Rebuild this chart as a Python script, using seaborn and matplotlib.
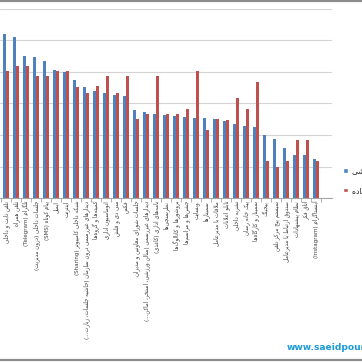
import re
import unicodedata
import numpy as np
import pandas as pd
import seaborn as sns
import matplotlib
matplotlib.use("Agg")
import matplotlib.pyplot as plt
from matplotlib.patches import Patch
from matplotlib.lines import Line2D

# ---------------- data ----------------
categories = [
    "تلفن ثابت و داخلی",
    "تلفن همراه",
    "تلگرام (Telegram)",
    "جلسات داخلی (درون مدیریت)",
    "پیام کوتاه (SMS)",
    "ایمیل",
    "اینترنت",
    "شبکه داخلی کامپیوتر (Sharing)",
    "دیدارهای غیررسمی درون سازمان (حاشیه جلسات، زیارت...)",
    "کمیته‌ها و گروه‌ها",
    "اتوماسیون اداری",
    "سی دی و فلش",
    "فکس",
    "جلسات شورای معاونین و مدیران",
    "دیدارهای غیررسمی (سالن ورزشی، استخر، اماکن...)",
    "نامه‌های اداری (کاغذی)",
    "نظرسنجی‌ها",
    "بروشورها و کاتالوگ‌ها",
    "جشن‌ها و مراسم‌ها",
    "وبسایت",
    "سمینارها",
    "ملاقات با مدیرعامل",
    "تابلو اعلانات",
    "نشریه داخلی",
    "پیک خانه رسان",
    "سمینار و کارگاه‌ها",
    "پیجینگ",
    "سیستم پیج مرکز تلفن",
    "صندوق ارتباط با مدیرعامل",
    "نظام پیشنهادات",
    "اتاق فکر",
    "اینستاگرام (Instagram)",
]
series_names = ["میزان اثربخشی", "میزان استفاده"]
effectiveness = [52.2, 51.0, 45.1, 44.7, 43.5, 40.5, 40.0, 37.5, 35.1, 33.9, 33.4,
                 32.8, 32.4, 28.0, 27.2, 26.8, 26.4, 26.1, 25.8, 25.5, 25.3, 25.0,
                 24.6, 23.6, 23.0, 22.6, 19.9, 18.6, 16.0, 13.8, 13.8, 12.3]
usage = [40.3, 42.0, 42.0, 38.6, 38.6, 40.3, 40.3, 35.1, 33.4, 35.4, 38.6,
         33.4, 38.6, 25.1, 26.7, 38.6, 26.7, 26.7, 28.4, 40.3, 21.7, 25.0,
         24.9, 31.7, 28.4, 36.8, 11.6, 10.0, 11.6, 18.3, 18.3, 11.6]
watermark = "www.saeidpourrostam.com"

# ---------------- simple Arabic-script shaping + RTL ordering ----------------
FORMS = {}
for cp in list(range(0xFB50, 0xFE00)) + list(range(0xFE70, 0xFF00)):
    d = unicodedata.decomposition(chr(cp))
    if not d:
        continue
    parts = d.split()
    if len(parts) == 2 and parts[0] in ("<isolated>", "<final>", "<initial>", "<medial>"):
        base = chr(int(parts[1], 16))
        FORMS.setdefault(base, {}).setdefault(parts[0][1:-1], chr(cp))

LAM_ALEF = {"ا": ("\uFEFB", "\uFEFC"), "آ": ("\uFEF5", "\uFEF6")}


def joins_next(c):
    return c in FORMS and ("initial" in FORMS[c] or "medial" in FORMS[c])


def joins_prev(c):
    return c in FORMS and "final" in FORMS[c]


def shape(text):
    out = []
    chars = list(text)
    i = 0
    while i < len(chars):
        c = chars[i]
        if c not in FORMS:
            if c != "\u200c":
                out.append(c)
            i += 1
            continue
        prev = chars[i - 1] if i > 0 else None
        nxt = chars[i + 1] if i + 1 < len(chars) else None
        jp = prev is not None and joins_next(prev) and joins_prev(c)
        if c == "ل" and nxt in LAM_ALEF:
            out.append(LAM_ALEF[nxt][1] if jp else LAM_ALEF[nxt][0])
            i += 2
            continue
        jn = nxt is not None and joins_prev(nxt) and joins_next(c)
        f = FORMS[c]
        if jp and jn and "medial" in f:
            out.append(f["medial"])
        elif jp and "final" in f:
            out.append(f["final"])
        elif jn and "initial" in f:
            out.append(f["initial"])
        else:
            out.append(f.get("isolated", c))
        i += 1
    return "".join(out)


MIRROR = str.maketrans("()[]", ")(][")


def rtl(text):
    runs = re.findall(r"[A-Za-z0-9][A-Za-z0-9 .]*[A-Za-z0-9]|[A-Za-z0-9]|[^A-Za-z0-9]+", text)
    vis = []
    for r in runs:
        if re.match(r"[A-Za-z0-9]", r):
            vis.append(r)
        else:
            vis.append(shape(r)[::-1].translate(MIRROR))
    return "".join(vis[::-1])


# ---------------- plot ----------------
sns.set_theme(style="white")
plt.rcParams["font.family"] = ["DejaVu Sans"]

W, H = 362, 362
fig = plt.figure(figsize=(W / 100, H / 100), dpi=100)
ax = fig.add_axes([0, (H - 198) / H, 332 / W, (198 - 9) / H])

df = pd.DataFrame({
    "cat": categories * 2,
    "series": [series_names[0]] * len(categories) + [series_names[1]] * len(categories),
    "value": effectiveness + usage,
})
blue, red = "#4F81BD", "#C0504D"
sns.barplot(data=df, x="cat", y="value", hue="series", palette=[blue, red],
            width=0.58, ax=ax, legend=False, saturation=1, order=categories,
            linewidth=0, edgecolor="none")

ax.set_xlim(-0.63, len(categories) - 1 + 1.57)
ax.set_ylim(0, 60)
ax.set_yticks(np.arange(0, 61, 10))
ax.yaxis.grid(True, color="#D4D4D4", linewidth=0.8)
ax.set_axisbelow(True)
ax.tick_params(axis="y", left=False, labelleft=False)
for s in ["left", "right", "top"]:
    ax.spines[s].set_visible(False)
ax.spines["bottom"].set_color("#A6A6A6")
ax.spines["bottom"].set_linewidth(0.8)
ax.set_xlabel("")
ax.set_ylabel("")

ax.set_xticks(range(len(categories)))
ax.set_xticklabels([rtl(c) for c in categories], rotation=90, fontsize=4,
                   color="#404040", va="top", ha="center")
ax.tick_params(axis="x", which="major", length=0, pad=2)
ax.set_xticks(np.arange(-0.5, len(categories), 1.0), minor=True)
ax.tick_params(axis="x", which="minor", length=3, width=0.6, color="#A6A6A6", bottom=True)

handles = [Patch(facecolor=blue), Patch(facecolor=red)]
fig.legend(handles, [rtl(s) for s in series_names], loc="upper left",
           bbox_to_anchor=(343 / W, 1 - 166 / H), frameon=False, fontsize=5.5,
           handlelength=0.6, handleheight=0.6, handletextpad=0.6,
           labelspacing=1.4, borderaxespad=0, borderpad=0)

fig.text(287 / W, 1 - 348 / H, watermark, color="#1B9AD6", fontsize=6.6,
         fontweight="bold", ha="left", va="center")

fig.add_artist(Line2D([0, 1], [1 - 0.8 / H, 1 - 0.8 / H], color="#8C8C8C", linewidth=1.6))
fig.add_artist(Line2D([0, 1], [1 - 360 / H, 1 - 360 / H], color="#8C8C8C", linewidth=1.6))

fig.savefig("out.png", dpi=100, facecolor="white")
